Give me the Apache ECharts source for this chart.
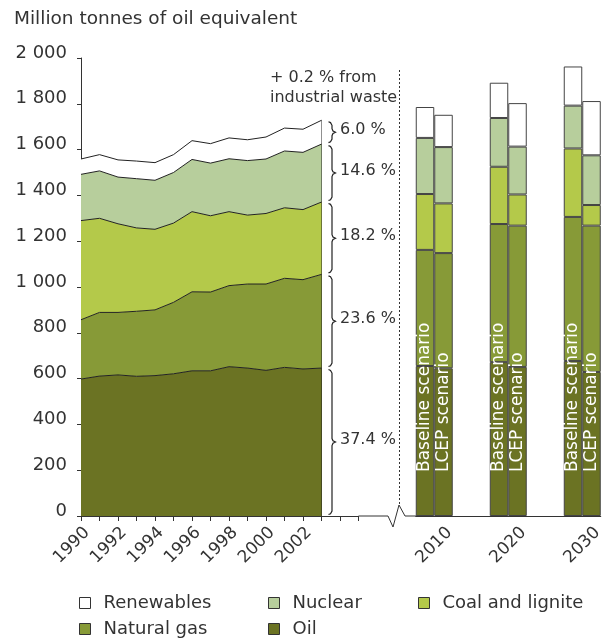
<!DOCTYPE html>
<html>
<head>
<meta charset="utf-8">
<title>Energy consumption by fuel</title>
<script src="https://cdn.jsdelivr.net/npm/echarts@6/dist/echarts.min.js"></script>
<style>
  html, body { margin: 0; padding: 0; background: #fff; }
  #main { width: 611px; height: 640px; }
</style>
</head>
<body>
<div id="main"></div>
<script>
// ---- data ----
const years = ['1990', '1991', '1992', '1993', '1994', '1995', '1996',
               '1997', '1998', '1999', '2000', '2001', '2002', '2003'];
const axisYears = years.concat(['2004', '2005']);   // axis runs on a bit past the data

const oil        = [598, 611, 616, 610, 613, 621, 634, 634, 652, 646, 636, 649, 642, 646];
const natGas     = [259, 278, 273, 284, 287, 312, 345, 344, 354, 367, 377, 389, 390, 409];
const coal       = [433, 411, 387, 364, 352, 346, 350, 333, 323, 301, 308, 308, 306, 316];
const nuclear    = [202, 207, 204, 215, 214, 221, 228, 230, 231, 238, 238, 248, 250, 253];
const renewables = [ 67,  71,  75,  77,  77,  78,  82,  85,  91,  91,  96, 100, 101, 104];

// projections: 2010 baseline, 2010 LCEP, 2020 baseline, 2020 LCEP, 2030 baseline, 2030 LCEP
const futureYears = ['2010', '2020', '2030'];
const scenarios = ['Baseline scenario', 'LCEP scenario'];
const oilFuture        = [655, 645, 672, 651, 677, 629];
const natGasFuture     = [507, 503, 603, 617, 629, 639];
const coalFuture       = [244, 217, 250, 136, 299,  90];
const nuclearFuture    = [245, 246, 213, 209, 187, 217];
const renewablesFuture = [135, 141, 154, 190, 171, 237];

const fuels = ['Oil', 'Natural gas', 'Coal and lignite', 'Nuclear', 'Renewables'];
const shareLabels = ['37.4 %', '23.6 %', '18.2 %', '14.6 %', '6.0 %'];   // 2003 shares, bottom to top
const wasteNote = '+ 0.2 % from\nindustrial waste';
const yTitle = 'Million tonnes of oil equivalent';

// ---- look ----
const colors = ['#6b7323', '#879a37', '#b4c94a', '#b7ce9c', '#ffffff'];
const FONT = 'DejaVu Sans';
const TXT = '#333';

// layout (px)
const STEP = 18.5;
const G0_LEFT = 81, TOP = 58, BOTTOM = 516;
const G0_WIDTH = STEP * (axisYears.length - 1);
const G1_LEFT = 415.75;

const histData = [oil, natGas, coal, nuclear, renewables];
const futData = [oilFuture, natGasFuture, coalFuture, nuclearFuture, renewablesFuture];

// bar categories with two empty slots between decades
const barCats = [];
const barSlot = [];
futureYears.forEach((y, i) => {
  if (i > 0) barCats.push('gap' + i + 'a', 'gap' + i + 'b');
  scenarios.forEach(s => { barSlot.push(barCats.length); barCats.push(y + ' ' + s); });
});

const series = [];
fuels.forEach((name, k) => {
  series.push({
    name: name,
    type: 'line',
    stack: 'hist',
    xAxisIndex: 0,
    yAxisIndex: 0,
    data: histData[k],
    symbol: 'none',
    itemStyle: { color: colors[k] },
    lineStyle: { color: '#222', width: 1 },
    areaStyle: { color: colors[k], opacity: 1 },
    emphasis: { disabled: true }
  });
});
fuels.forEach((name, k) => {
  const d = barCats.map(() => '-');
  futData[k].forEach((v, j) => { d[barSlot[j]] = v; });
  const s = {
    name: name,
    type: 'bar',
    stack: 'future',
    xAxisIndex: 1,
    yAxisIndex: 1,
    data: d,
    barWidth: '100%',
    itemStyle: { color: colors[k], borderColor: '#444', borderWidth: 1 },
    emphasis: { disabled: true }
  };
  if (k === 0) {
    s.label = {
      show: true,
      position: 'insideBottom',
      rotate: 90,
      align: 'left',
      verticalAlign: 'middle',
      distance: 44,
      color: '#fff',
      fontSize: 17,
      fontFamily: FONT,
      formatter: p => p.name.split(' ').slice(1).join(' ')
    };
  }
  series.push(s);
});

const legendItems = [
  ['Renewables', 79, 594], ['Nuclear', 268, 594], ['Coal and lignite', 418, 594],
  ['Natural gas', 79, 620], ['Oil', 268, 620]
];

const chart = echarts.init(document.getElementById('main'));

const option = {
  animation: false,
  backgroundColor: '#fff',
  title: {
    text: yTitle,
    left: 14,
    top: 10,
    padding: 0,
    textStyle: { fontSize: 18.5, fontWeight: 'normal', color: TXT, fontFamily: FONT }
  },
  legend: legendItems.map(([name, left, top]) => ({
    data: [name],
    left: left,
    top: top,
    padding: 0,
    icon: 'rect',
    itemWidth: 11,
    itemHeight: 11,
    selectedMode: false,
    itemStyle: { borderColor: '#333', borderWidth: 1 },
    textStyle: { fontSize: 18, color: TXT, fontFamily: FONT, padding: [0, 0, 0, 8] }
  })),
  grid: [
    { left: G0_LEFT, top: TOP, width: G0_WIDTH, height: BOTTOM - TOP },
    { left: G1_LEFT, top: TOP, width: STEP * barCats.length, height: BOTTOM - TOP }
  ],
  xAxis: [
    {
      type: 'category',
      gridIndex: 0,
      data: axisYears,
      boundaryGap: false,
      axisLine: { lineStyle: { color: '#333', width: 1 } },
      axisTick: { interval: 0, length: 5, lineStyle: { color: '#333' } },
      axisLabel: {
        interval: (i, v) => i % 2 === 0 && years.indexOf(v) >= 0 && v !== years[years.length - 1],
        rotate: 45,
        margin: 8,
        verticalAlign: 'top',
        fontSize: 17,
        color: TXT,
        fontFamily: FONT
      },
      splitLine: { show: false }
    },
    {
      type: 'category',
      gridIndex: 1,
      data: barCats,
      axisLine: { lineStyle: { color: '#333', width: 1 } },
      axisTick: { interval: 0, alignWithLabel: true, length: 5, lineStyle: { color: '#333' } },
      axisLabel: {
        interval: (i, v) => v.endsWith(scenarios[1]),
        formatter: v => v.split(' ')[0],
        rotate: 45,
        margin: 8,
        verticalAlign: 'top',
        fontSize: 17,
        color: TXT,
        fontFamily: FONT
      },
      splitLine: { show: false }
    }
  ],
  yAxis: [
    {
      type: 'value',
      gridIndex: 0,
      min: 0,
      max: 2000,
      interval: 200,
      axisLine: { show: true, lineStyle: { color: '#333', width: 1 } },
      axisTick: { show: true, length: 4, lineStyle: { color: '#333' } },
      splitLine: { show: false },
      axisLabel: {
        margin: 14,
        fontSize: 18,
        color: TXT,
        fontFamily: FONT,
        verticalAlign: 'bottom',
        lineHeight: 10,
        formatter: v => v >= 1000 ? Math.floor(v / 1000) + ' ' + String(v % 1000).padStart(3, '0') : String(v)
      }
    },
    {
      type: 'value',
      gridIndex: 1,
      min: 0,
      max: 2000,
      interval: 200,
      show: false
    }
  ],
  series: series
};

chart.setOption(option);

// ---- braces, share labels and the axis break, placed from the data ----
const lastIdx = years.length - 1;
const lastYear = years[lastIdx];
const toPx = v => chart.convertToPixel({ gridIndex: 0 }, [lastYear, v]);

const graphics = [];
let cum = 0;
histData.forEach((arr, k) => {
  const lo = cum;
  cum += arr[lastIdx];
  const y1 = toPx(cum)[1] + 1.5;
  const y2 = toPx(lo)[1] - 1.5;
  const ym = (y1 + y2) / 2;
  const x0 = 328.5, xm = 332, xt = 335.5;
  graphics.push({
    type: 'polyline',
    shape: {
      points: [[x0, y1], [x0 + 2, y1 + 0.8], [xm, y1 + 3.5], [xm, ym - 3.5], [xm + 1, ym - 1.2], [xt, ym],
               [xm + 1, ym + 1.2], [xm, ym + 3.5], [xm, y2 - 3.5], [x0 + 2, y2 - 0.8], [x0, y2]]
    },
    style: { stroke: '#222', lineWidth: 1.2, fill: null }
  });
  graphics.push({
    type: 'text',
    x: 340,
    y: ym - 2,
    style: { text: shareLabels[k], fill: TXT, font: '16px "' + FONT + '"', verticalAlign: 'middle' }
  });
});

// right edge of the 2003 area
const edgeTop = toPx(cum);
const edgeBot = toPx(0);
graphics.push({
  type: 'line',
  shape: { x1: edgeTop[0], y1: edgeTop[1], x2: edgeBot[0], y2: edgeBot[1] },
  style: { stroke: '#222', lineWidth: 1 }
});

// industrial waste note
graphics.push({
  type: 'text',
  x: 270,
  y: 68,
  style: { text: wasteNote, font: '16px "' + FONT + '"', fill: TXT, lineHeight: 20 }
});

// axis break between history and projections
const axisEnd = G0_LEFT + G0_WIDTH;
graphics.push({
  type: 'polyline',
  shape: { points: [[axisEnd, BOTTOM], [388, BOTTOM], [393, BOTTOM + 11], [399, BOTTOM - 11], [405, BOTTOM], [G1_LEFT + 1, BOTTOM]] },
  style: { stroke: '#333', lineWidth: 1, fill: null }
});
graphics.push({
  type: 'line',
  shape: { x1: 399.5, y1: 70, x2: 399.5, y2: BOTTOM - 11 },
  style: { stroke: '#333', lineWidth: 1, lineDash: [2, 2] }
});

chart.setOption({ graphic: graphics });
</script>
</body>
</html>
